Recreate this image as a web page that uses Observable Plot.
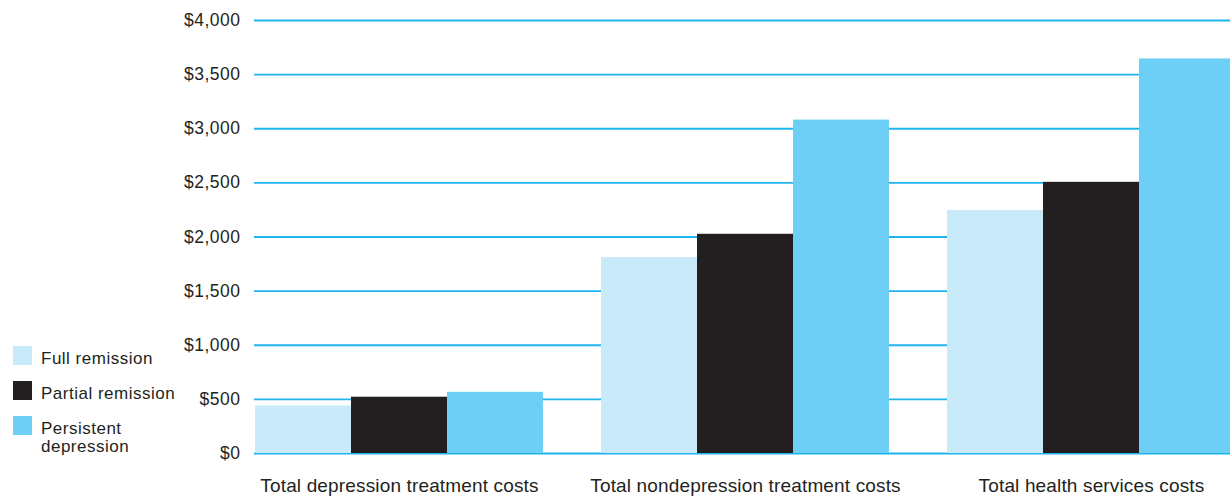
<!DOCTYPE html>
<html><head><meta charset="utf-8">
<script src="https://cdn.jsdelivr.net/npm/d3@7"></script>
<script src="https://cdn.jsdelivr.net/npm/@observablehq/plot@0.6"></script>
<style>
html,body{margin:0;padding:0;background:#fff;overflow:hidden;width:1230px;height:498px}
#wrap{position:relative;width:1230px;height:498px;overflow:hidden}
#wrap svg{position:absolute;left:0;top:0;max-width:none}
.item{position:absolute;left:13px;display:flex;align-items:flex-start;font-family:"Liberation Sans",Arial,sans-serif;font-size:17px;line-height:17.5px;color:#231f20;letter-spacing:0.5px}
.sw{width:19px;height:19px;flex:none}
.lab{margin-left:9px;margin-top:4px;max-width:140px}
</style></head><body><div id="wrap"></div>
<script>
const groups = ["Total depression treatment costs","Total nondepression treatment costs","Total health services costs"];
const seriesNames = ["Full remission","Partial remission","Persistent depression"];
const fullRemission = [440, 1810, 2245];
const partialRemission = [520, 2025, 2505];
const persistentDepression = [565, 3080, 3645];
const yTicks = [0, 500, 1000, 1500, 2000, 2500, 3000, 3500, 4000];
const colors = ["#c8eaf9", "#231f20", "#6dcff6"];
const legendTops = [346, 381, 416];

const seriesValues = [fullRemission, partialRemission, persistentDepression];
const rows = [];
groups.forEach((g, gi) => seriesNames.forEach((s, si) => rows.push({group: g, series: s, value: seriesValues[si][gi]})));

const W = 1237, H = 498;
const common = {width: W, height: H, marginLeft: 254, marginRight: 0, marginTop: 20, marginBottom: 45};

const grid = Plot.plot({
  ...common,
  style: {fontFamily: "Liberation Sans, Arial, sans-serif", fontSize: "17.5px", color: "#231f20", background: "transparent", letterSpacing: "0.5px"},
  y: {domain: [0, 4000], ticks: yTicks, tickFormat: d3.format("$,"), tickSize: 0, tickPadding: 14, label: null},
  marks: [Plot.ruleY(yTicks, {stroke: "#1fb4ec", strokeWidth: 1.8})]
});

const bars = Plot.plot({
  ...common,
  style: {fontFamily: "Liberation Sans, Arial, sans-serif", fontSize: "19px", color: "#231f20", background: "transparent", letterSpacing: "0.15px"},
  facet: {data: rows, x: "group"},
  fx: {domain: groups, paddingInner: 0.167, paddingOuter: 0, label: null, tickSize: 0, tickPadding: 25, axis: "bottom"},
  x: {domain: seriesNames, padding: 0, axis: null},
  y: {domain: [0, 4000], axis: null},
  color: {domain: seriesNames, range: colors},
  marks: [Plot.barY(rows, {x: "series", y: "value", fill: "series"})]
});

const wrap = document.getElementById("wrap");
wrap.appendChild(grid);
wrap.appendChild(bars);

seriesNames.forEach((s, i) => {
  const it = document.createElement("div");
  it.className = "item";
  it.style.top = legendTops[i] + "px";
  const sw = document.createElement("div");
  sw.className = "sw"; sw.style.background = colors[i];
  const lab = document.createElement("div");
  lab.className = "lab"; lab.textContent = s;
  it.appendChild(sw); it.appendChild(lab);
  wrap.appendChild(it);
});
</script>
</body></html>
